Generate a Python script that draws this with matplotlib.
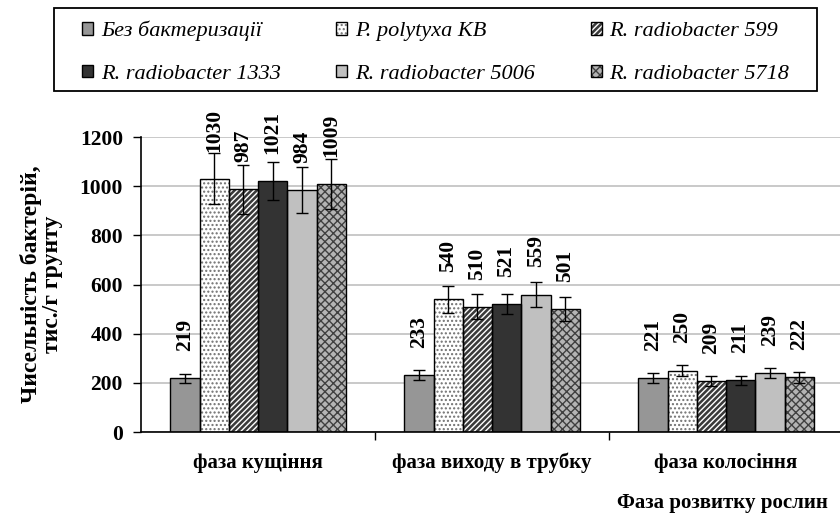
import numpy as np
import matplotlib
matplotlib.use("Agg")
import matplotlib.pyplot as plt
from matplotlib.patches import Patch, Rectangle
from matplotlib.legend_handler import HandlerTuple

plt.rcParams['font.family'] = ['Liberation Serif', 'DejaVu Serif']
plt.rcParams['hatch.linewidth'] = 1.0

categories = ["фаза кущіння", "фаза виходу в трубку", "фаза колосіння"]
series_names = ["Без бактеризації", "P. polytyxa KB", "R. radiobacter 599",
                "R. radiobacter 1333", "R. radiobacter 5006", "R. radiobacter 5718"]
values = [
    [219, 233, 221],
    [1030, 540, 250],
    [987, 510, 209],
    [1021, 521, 211],
    [984, 559, 239],
    [1009, 501, 222],
]
errors = [
    [18, 20, 20],
    [104, 54, 24],
    [100, 51, 20],
    [79, 39, 18],
    [92, 50, 20],
    [100, 50, 24],
]
y_ticks = [0, 200, 400, 600, 800, 1000, 1200]

# style per series: facecolor, hatch, hatch colour
styles = [
    ("#969696", None, "#969696"),
    ("#ffffff", "....", "#707070"),
    ("#3a3a3a", "//////", "#ffffff"),
    ("#333333", None, "#333333"),
    ("#c0c0c0", None, "#c0c0c0"),
    ("#b4b4b4", "xxxx", "#404040"),
]

fig = plt.figure(figsize=(8.4, 5.15), dpi=100)
W, H = 840, 515
ax = fig.add_axes([141 / W, 1 - 432 / H, 702 / W, 295 / H])

x = np.arange(len(categories))
bw = 0.125
n = len(series_names)
handles = []
for i in range(n):
    fc, hatch, hc = styles[i]
    pos = x + (i - (n - 1) / 2) * bw
    ax.bar(pos, values[i], bw, color=fc, hatch=hatch, edgecolor=hc, linewidth=0, zorder=2)
    ax.bar(pos, values[i], bw, facecolor='none', edgecolor='black', linewidth=1.0, zorder=3)
    ax.errorbar(pos, values[i], yerr=errors[i], fmt='none', ecolor='black',
                elinewidth=1.0, capsize=4, capthick=1.0, zorder=4)
    for xp, v in zip(pos, values[i]):
        ax.annotate(str(v), (xp, v), xytext=(0, 19.5), textcoords='offset points',
                    rotation=90, ha='center', va='bottom', fontsize=15.5,
                    fontweight='bold', zorder=5)
    h1 = Patch(facecolor=fc, hatch=hatch, edgecolor=hc, linewidth=0)
    h2 = Patch(facecolor='none', edgecolor='black', linewidth=1.0)
    handles.append((h1, h2))

ax.set_xlim(-0.5, len(categories) - 0.5)
ax.set_ylim(0, 1200)
ax.set_yticks(y_ticks)
ax.set_yticklabels([str(t) for t in y_ticks], fontsize=15.5, fontweight='bold')
ax.tick_params(axis='y', direction='out', length=6, width=1, pad=7)
ax.set_xticks(x)
ax.set_xticklabels(categories, fontsize=15, fontweight='bold')
ax.tick_params(axis='x', length=0, pad=15)
ax.set_xticks(np.arange(0.5, len(categories) - 0.5, 1.0), minor=True)
ax.tick_params(axis='x', which='minor', direction='out', length=6, width=1)
ax.yaxis.grid(True, color='#c0c0c0', linewidth=1.2, zorder=0)
ax.set_axisbelow(True)
for s in ['top', 'right']:
    ax.spines[s].set_visible(False)
for s in ['left', 'bottom']:
    ax.spines[s].set_linewidth(1.2)
    ax.spines[s].set_color('black')

ax.set_ylabel("Чисельність бактерій,\nтис./г грунту", fontsize=17, fontweight='bold',
              labelpad=12, linespacing=1.0)

fig.text(828 / W, 1 - 503 / H, "Фаза розвитку рослин", ha='right', va='center',
         fontsize=15, fontweight='bold')

# legend frame
fig.patches.append(Rectangle((54 / W, 1 - 91 / H), (817 - 54) / W, (91 - 8) / H,
                             transform=fig.transFigure, facecolor='white',
                             edgecolor='black', linewidth=1.3, zorder=0))

order = [0, 3, 1, 4, 2, 5]
leg = fig.legend([handles[k] for k in order], [series_names[k] for k in order],
                 handler_map={tuple: HandlerTuple(ndivide=1)},
                 ncol=3, loc='center left',
                 bbox_to_anchor=(82 / W, 1 - 52.5 / H),
                 prop={'style': 'italic', 'size': 16}, frameon=False,
                 handlelength=0.5, handleheight=0.5,
                 handletextpad=0.35, borderpad=0, labelspacing=1.05,
                 columnspacing=2.5, borderaxespad=0)

fig.savefig("out.png", dpi=100)
